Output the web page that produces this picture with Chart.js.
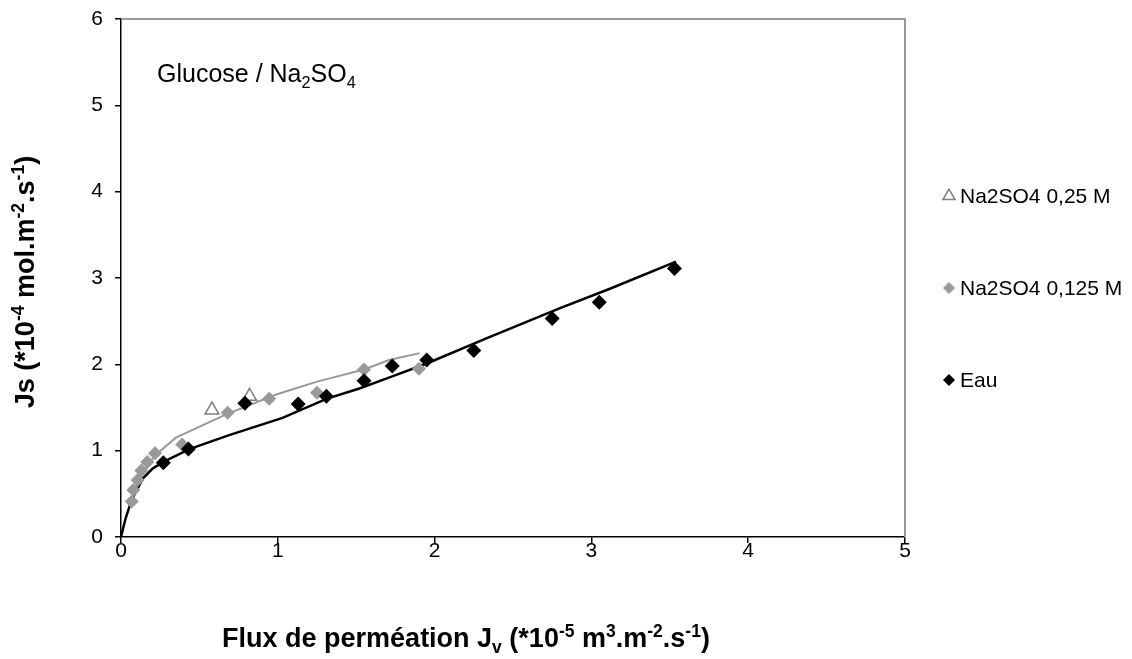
<!DOCTYPE html>
<html><head><meta charset="utf-8">
<script src="https://cdn.jsdelivr.net/npm/chart.js@4.4.0/dist/chart.umd.min.js"></script>
<style>html,body{margin:0;padding:0;background:#fff}#wrap{width:1132px;height:659px;position:relative}</style>
</head><body><div id="wrap"><canvas id="c" width="1132" height="659"></canvas></div>
<script>
// Measured series
const eauX = [0.27, 0.43, 0.79, 1.13, 1.31, 1.55, 1.73, 1.95, 2.25, 2.75, 3.05, 3.53];
const eauY = [0.86, 1.02, 1.55, 1.54, 1.63, 1.81, 1.98, 2.05, 2.16, 2.53, 2.72, 3.11];
const na125X = [0.068, 0.078, 0.106, 0.13, 0.168, 0.217, 0.39, 0.68, 0.945, 1.25, 1.55, 1.90];
const na125Y = [0.41, 0.545, 0.66, 0.77, 0.87, 0.97, 1.07, 1.44, 1.60, 1.67, 1.94, 1.95];
const na25X = [0.58, 0.82];
const na25Y = [1.47, 1.63];
// Fitted curves
const fitEauX = [0, 0.03, 0.068, 0.14, 0.2, 0.27, 0.44, 0.69, 1.03, 1.31, 1.52, 1.73, 1.95, 2.33, 2.80, 3.11, 3.54];
const fitEauY = [0, 0.22, 0.43, 0.68, 0.79, 0.87, 1.02, 1.18, 1.38, 1.60, 1.72, 1.86, 2.01, 2.30, 2.65, 2.87, 3.19];
const fitNaX = [0.06, 0.09, 0.15, 0.22, 0.35, 0.67, 0.99, 1.25, 1.55, 1.71, 1.905];
const fitNaY = [0.40, 0.55, 0.78, 0.95, 1.15, 1.42, 1.65, 1.80, 1.94, 2.05, 2.13];
// Axes
const xTicks = [0, 1, 2, 3, 4, 5];
const yTicks = [0, 1, 2, 3, 4, 5, 6];
const legendLabels = ['Na2SO4 0,25 M', 'Na2SO4 0,125 M', 'Eau'];

const pts = (xs, ys) => xs.map((x, i) => ({x: x, y: ys[i]}));
const FONT = '"Liberation Sans", Arial, sans-serif';

function drawRich(ctx, parts, size, bold, align) {
  const w = bold ? 'bold ' : '';
  let total = 0;
  parts.forEach(p => {
    const s = (p.sub || p.sup) ? size * 0.65 : size;
    ctx.font = w + s + 'px ' + FONT;
    p._w = ctx.measureText(p.t).width; p._s = s; total += p._w;
  });
  let x = align === 'center' ? -total / 2 : 0;
  parts.forEach(p => {
    ctx.font = w + p._s + 'px ' + FONT;
    let dy = 0;
    if (p.sub) dy = size * 0.22;
    if (p.sup) dy = -size * 0.38;
    ctx.fillText(p.t, x, dy);
    x += p._w;
  });
}

const decor = {
  id: 'decor',
  beforeDatasetsDraw(chart) {
    const ctx = chart.ctx, a = chart.chartArea;
    ctx.save();
    ctx.strokeStyle = '#9a9a9a'; ctx.lineWidth = 2;
    ctx.beginPath();
    ctx.moveTo(a.left, a.top); ctx.lineTo(a.right, a.top); ctx.lineTo(a.right, a.bottom);
    ctx.stroke();
    ctx.restore();
  },
  afterDraw(chart) {
    const ctx = chart.ctx, a = chart.chartArea;
    ctx.save();
    ctx.fillStyle = '#000'; ctx.textBaseline = 'alphabetic';
    // Inner title
    ctx.save(); ctx.translate(157, 82);
    drawRich(ctx, [{t: 'Glucose / Na'}, {t: '2', sub: true}, {t: 'SO'}, {t: '4', sub: true}], 25, false, 'left');
    ctx.restore();
    // X title
    ctx.save(); ctx.translate(466, 647);
    drawRich(ctx, [{t: 'Flux de perméation J'}, {t: 'v', sub: true}, {t: ' (*10'}, {t: '-5', sup: true},
      {t: ' m'}, {t: '3', sup: true}, {t: '.m'}, {t: '-2', sup: true}, {t: '.s'}, {t: '-1', sup: true}, {t: ')'}], 27, true, 'center');
    ctx.restore();
    // Y title
    ctx.save(); ctx.translate(34, 282); ctx.rotate(-Math.PI / 2);
    drawRich(ctx, [{t: 'Js (*10'}, {t: '-4', sup: true}, {t: ' mol.m'}, {t: '-2', sup: true}, {t: '.s'}, {t: '-1', sup: true}, {t: ')'}], 27, true, 'center');
    ctx.restore();
    // Legend
    const lx = 949, tx = 960, ys = [196, 288, 380];
    ctx.font = '21px ' + FONT; ctx.textBaseline = 'middle';
    chart.data.datasets.slice(0, 3).forEach((ds, i) => {
      ctx.fillStyle = ds.backgroundColor; ctx.strokeStyle = ds.borderColor;
      ctx.lineWidth = ds.pointBorderWidth || 0.01;
      Chart.helpers.drawPoint(ctx, {pointStyle: ds.pointStyle, radius: i === 0 ? 7 : 6,
        borderWidth: ds.pointBorderWidth, rotation: 0}, lx, ys[i]);
      ctx.fillStyle = '#000';
      ctx.fillText(legendLabels[i], tx, ys[i] + 1);
    });
    ctx.restore();
  }
};

const chart = new Chart(document.getElementById('c'), {
  type: 'scatter',
  data: {
    datasets: [
      {label: legendLabels[0], data: pts(na25X, na25Y), pointStyle: 'triangle', pointRadius: 8,
        backgroundColor: 'rgba(0,0,0,0)', borderColor: '#808080', pointBorderWidth: 1.5, order: 1},
      {label: legendLabels[1], data: pts(na125X, na125Y), pointStyle: 'rectRot', pointRadius: 7,
        backgroundColor: '#999999', borderColor: '#999999', pointBorderWidth: 0, order: 2},
      {label: legendLabels[2], data: pts(eauX, eauY), pointStyle: 'rectRot', pointRadius: 7.5,
        backgroundColor: '#000000', borderColor: '#000000', pointBorderWidth: 0, order: 0},
      {label: 'fitNa', data: pts(fitNaX, fitNaY), showLine: true, pointRadius: 0, borderColor: '#999999',
        borderWidth: 2, tension: 0, order: 4},
      {label: 'fitEau', data: pts(fitEauX, fitEauY), showLine: true, pointRadius: 0, borderColor: '#000000',
        borderWidth: 2.5, tension: 0, order: 3}
    ]
  },
  options: {
    responsive: false, animation: false, devicePixelRatio: 1,
    layout: {padding: {left: 0, top: 19, right: 227, bottom: 0}},
    plugins: {legend: {display: false}, tooltip: {enabled: false}, title: {display: false}},
    scales: {
      x: {type: 'linear', min: 0, max: 5,
        afterBuildTicks: s => { s.ticks = xTicks.map(v => ({value: v})); },
        afterFit: s => { s.height = 122; s.paddingLeft = 0; s.paddingRight = 0; },
        grid: {drawOnChartArea: false, drawTicks: true, tickLength: 6, color: '#000', lineWidth: 1.5},
        border: {color: '#000', width: 1.5},
        ticks: {color: '#000', font: {family: FONT, size: 21}, padding: -4, maxRotation: 0}},
      y: {type: 'linear', min: 0, max: 6,
        afterBuildTicks: s => { s.ticks = yTicks.map(v => ({value: v})); },
        afterFit: s => { s.width = 121; s.paddingTop = 0; s.paddingBottom = 0; },
        grid: {drawOnChartArea: false, drawTicks: true, tickLength: 6, color: '#000', lineWidth: 1.5},
        border: {color: '#000', width: 1.5},
        ticks: {color: '#000', font: {family: FONT, size: 21}, padding: 12}}
    }
  },
  plugins: [decor]
});
</script>
</body></html>
